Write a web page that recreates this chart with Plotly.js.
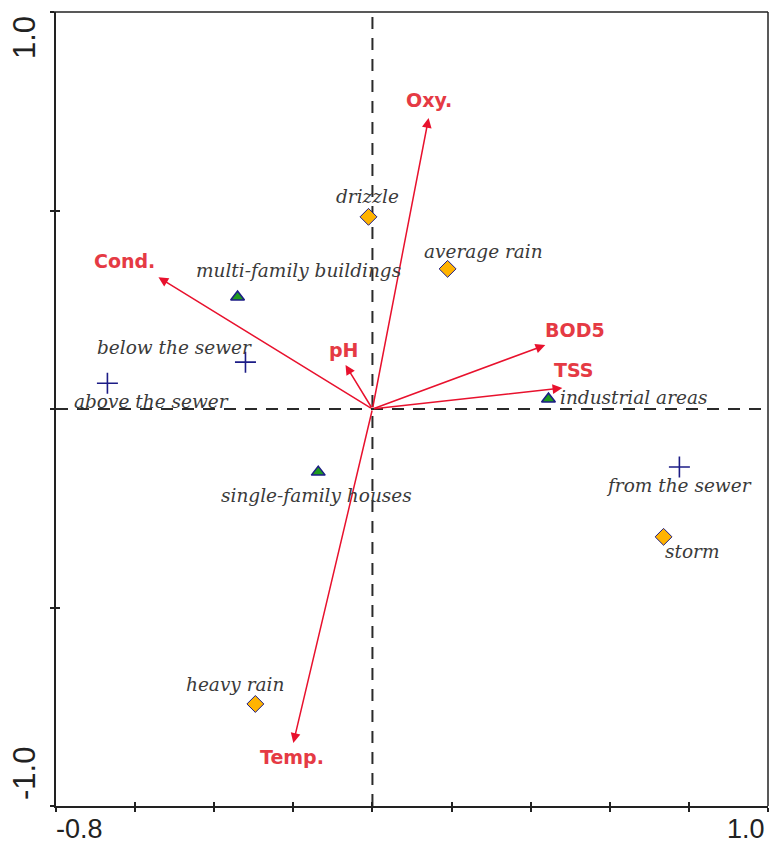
<!DOCTYPE html>
<html>
<head>
<meta charset="utf-8">
<script src="https://cdn.plot.ly/plotly-3.0.1.min.js"></script>
<style>
  html, body { margin: 0; padding: 0; background: #ffffff; }
  #chart { width: 775px; height: 843px; }
</style>
</head>
<body>
<div id="chart"></div>
<script>
// ---- Data ----
// Environmental variable vectors (arrow tips)
const varNames = ["Oxy.", "Cond.", "pH", "BOD5", "TSS", "Temp."];
const varX = [0.142, -0.541, -0.068, 0.437, 0.480, -0.200];
const varY = [0.733, 0.332, 0.111, 0.161, 0.053, -0.841];

// Catchment type (triangles)
const landNames = ["multi-family buildings", "single-family houses", "industrial areas"];
const landX = [-0.341, -0.137, 0.445];
const landY = [0.282, -0.159, 0.025];

// Sampling location (crosses)
const sewerNames = ["below the sewer", "above the sewer", "from the sewer"];
const sewerX = [-0.321, -0.670, 0.776];
const sewerY = [0.118, 0.065, -0.146];

// Rainfall type (diamonds)
const rainNames = ["drizzle", "average rain", "storm", "heavy rain"];
const rainX = [-0.010, 0.190, 0.736, -0.296];
const rainY = [0.484, 0.353, -0.322, -0.743];

// Axis ticks and end labels
const xTickVals = [-0.8, -0.6, -0.4, -0.2, 0, 0.2, 0.4, 0.6, 0.8, 1.0];
const yTickVals = [-1.0, -0.5, 0, 0.5, 1.0];
const xEndLabels = ["-0.8", "1.0"];
const yEndLabels = ["-1.0", "1.0"];

// ---- Styling / placement (not data) ----
const RED = "#e8112d";
const RED_TEXT = "#e53a44";
const LABEL_GREY = "#3a3a3a";
const NAVY = "#1c1c86";

// label pixel offsets relative to their marks
const varLabelShift = [[0, 18], [-34, 16], [-2, 15], [30, 15], [11, 18], [-1, -14]];
const landLabelShift = [[61, 27], [-2, -23], [85, 2]];
const sewerLabelShift = [[-71, 15], [44, -18], [0, -19]];
const rainLabelShift = [[-1, 20], [36, 17], [28, -15], [-20, 19]];

const traces = [
  {
    type: "scatter", mode: "markers", x: landX, y: landY, text: landNames,
    hoverinfo: "text", cliponaxis: false,
    marker: { symbol: "triangle-up", size: 12, color: "#1f9a1f", line: { color: NAVY, width: 1.5 } }
  },
  {
    type: "scatter", mode: "markers", x: sewerX, y: sewerY, text: sewerNames,
    hoverinfo: "text", cliponaxis: false,
    marker: { symbol: "cross-thin", size: 15, color: NAVY, line: { color: NAVY, width: 1.6 } }
  },
  {
    type: "scatter", mode: "markers", x: rainX, y: rainY, text: rainNames,
    hoverinfo: "text", cliponaxis: false,
    marker: { symbol: "diamond", size: 13, color: "#ffb300", line: { color: NAVY, width: 1 } }
  },
  // empty trace so the overlay axis (inner half of crossing ticks) gets drawn
  { type: "scatter", mode: "markers", x: [], y: [], xaxis: "x2", yaxis: "y2", showlegend: false, hoverinfo: "skip" }
];

const annotations = [];

// arrows (from origin to each vector tip)
varNames.forEach((n, i) => {
  annotations.push({
    x: varX[i], y: varY[i], xref: "x", yref: "y",
    ax: 0, ay: 0, axref: "x", ayref: "y",
    text: "", showarrow: true, arrowhead: 2, arrowsize: 1.3, arrowwidth: 1.5,
    arrowcolor: RED, standoff: 0, startstandoff: 0, font: { size: 1 }
  });
  annotations.push({
    x: varX[i], y: varY[i], xref: "x", yref: "y",
    text: n, showarrow: false,
    xshift: varLabelShift[i][0], yshift: varLabelShift[i][1],
    font: { family: "DejaVu Sans", size: 19, color: RED_TEXT, weight: "bold" }
  });
});

function addLabels(names, xs, ys, shifts) {
  names.forEach((n, i) => {
    annotations.push({
      x: xs[i], y: ys[i], xref: "x", yref: "y",
      text: "<i>" + n + "</i>", showarrow: false,
      xshift: shifts[i][0], yshift: shifts[i][1],
      font: { family: "DejaVu Serif", size: 18.5, color: LABEL_GREY }
    });
  });
}
addLabels(landNames, landX, landY, landLabelShift);
addLabels(sewerNames, sewerX, sewerY, sewerLabelShift);
addLabels(rainNames, rainX, rainY, rainLabelShift);

// end tick labels on x axis
annotations.push({
  x: xTickVals[0], y: 0, xref: "x", yref: "paper", text: xEndLabels[0], showarrow: false,
  xanchor: "left", yanchor: "top", yshift: -6, xshift: -2,
  font: { family: "Liberation Sans", size: 27, color: "#222" }
});
annotations.push({
  x: xTickVals[xTickVals.length - 1], y: 0, xref: "x", yref: "paper", text: xEndLabels[1], showarrow: false,
  xanchor: "right", yanchor: "top", yshift: -6, xshift: -1,
  font: { family: "Liberation Sans", size: 27, color: "#222" }
});
// end tick labels on y axis (rotated)
annotations.push({
  x: 0, y: yTickVals[0], xref: "paper", yref: "y", text: yEndLabels[0], showarrow: false,
  textangle: -90, xanchor: "right", yanchor: "bottom", xshift: -12, yshift: 4,
  font: { family: "Liberation Sans", size: 31, color: "#222" }
});
annotations.push({
  x: 0, y: yTickVals[yTickVals.length - 1], xref: "paper", yref: "y", text: yEndLabels[1], showarrow: false,
  textangle: -90, xanchor: "right", yanchor: "top", xshift: -12, yshift: -2,
  font: { family: "Liberation Sans", size: 31, color: "#222" }
});

const shapes = [
  // dashed reference lines through the origin
  { type: "line", xref: "x", yref: "paper", x0: 0, x1: 0, y0: 0, y1: 1,
    line: { color: "#2a2a2a", width: 2, dash: "12px,9px" }, layer: "below" },
  { type: "line", xref: "paper", yref: "y", x0: 0, x1: 1, y0: 0, y1: 0,
    line: { color: "#2a2a2a", width: 2, dash: "12px,9px" }, layer: "below" },
  // thin top and right frame
  { type: "line", xref: "paper", yref: "paper", x0: -0.008, x1: 1, y0: 1, y1: 1,
    line: { color: "#222", width: 1.5 } },
  { type: "line", xref: "paper", yref: "paper", x0: 1, x1: 1, y0: 0, y1: 1,
    line: { color: "#222", width: 1.5 } }
];

const layout = {
  width: 775, height: 843,
  margin: { l: 56, r: 7, t: 12, b: 37, pad: 0 },
  paper_bgcolor: "#ffffff", plot_bgcolor: "#ffffff",
  showlegend: false,
  font: { family: "Liberation Sans" },
  xaxis: {
    range: [xTickVals[0], xTickVals[xTickVals.length - 1]],
    showgrid: false, zeroline: false, showline: true, linecolor: "#222", linewidth: 2,
    tickmode: "array", tickvals: xTickVals, showticklabels: false,
    ticks: "outside", ticklen: 4, tickwidth: 2, tickcolor: "#222", fixedrange: true
  },
  yaxis: {
    range: [yTickVals[0], yTickVals[yTickVals.length - 1]],
    showgrid: false, zeroline: false, showline: true, linecolor: "#222", linewidth: 2,
    tickmode: "array", tickvals: yTickVals, showticklabels: false,
    ticks: "outside", ticklen: 4, tickwidth: 2, tickcolor: "#222", fixedrange: true
  },
  xaxis2: {
    overlaying: "x", anchor: "y2", matches: "x", side: "bottom",
    showgrid: false, zeroline: false, showline: false,
    tickmode: "array", tickvals: xTickVals, showticklabels: false,
    ticks: "inside", ticklen: 4, tickwidth: 2, tickcolor: "#222"
  },
  yaxis2: {
    overlaying: "y", anchor: "x2", matches: "y", side: "left",
    showgrid: false, zeroline: false, showline: false,
    tickmode: "array", tickvals: [yTickVals[1], yTickVals[3]], showticklabels: false,
    ticks: "inside", ticklen: 4, tickwidth: 2, tickcolor: "#222"
  },
  annotations: annotations,
  shapes: shapes
};

Plotly.newPlot("chart", traces, layout, { displayModeBar: false, staticPlot: true });
</script>
</body>
</html>
